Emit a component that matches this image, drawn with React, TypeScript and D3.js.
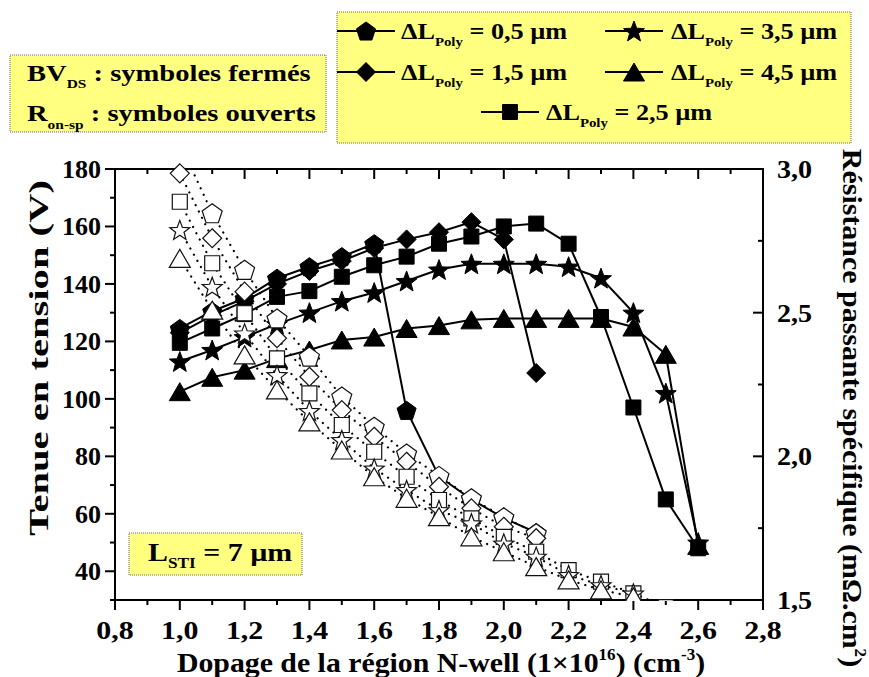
import React from 'react';
import * as d3 from 'd3';

// ---------- DATA ----------
const xValues = [1.0, 1.1, 1.2, 1.3, 1.4, 1.5, 1.6, 1.7, 1.8, 1.9, 2.0, 2.1, 2.2, 2.3, 2.4, 2.5, 2.6];

// BV_DS (V) - closed symbols, left axis
const bvPentagon = [124.5, 130.5, 135, 142, 146, 149.5, 154, 96, 73, 65, 58.5, 53.5];
const bvDiamond = [123, 129, 134, 140, 144.5, 148, 152.5, 155.5, 158, 161.5, 155.5, 109];
const bvSquare = [119.5, 124.5, 129.5, 135.5, 137.5, 142.5, 146.5, 149.5, 154, 156.5, 160, 161, 154, 128.5, 97, 65, 48];
const bvStar = [113, 117, 121.5, 126, 130, 134, 137, 141, 145, 147, 147, 147, 146, 142, 130, 102, 50];
const bvTriangle = [102.5, 107.5, 110, 114, 117, 120.5, 121.5, 124.5, 125.5, 127.5, 128, 128, 128, 128, 125, 115.5, 49];

// R_on-sp (mOhm.cm2) - open symbols, right axis
const ronPentagon = [3.09, 2.846, 2.649, 2.48, 2.347, 2.208, 2.103, 2.01, 1.932, 1.854, 1.788, 1.732];
const ronDiamond = [2.985, 2.759, 2.573, 2.411, 2.277, 2.161, 2.068, 1.981, 1.894, 1.819, 1.755, 1.715];
const ronSquare = [2.886, 2.672, 2.498, 2.341, 2.219, 2.109, 2.016, 1.929, 1.848, 1.784, 1.72, 1.668, 1.604, 1.564, 1.523, 1.475];
const ronStar = [2.788, 2.59, 2.428, 2.283, 2.158, 2.057, 1.958, 1.883, 1.813, 1.767, 1.697, 1.651, 1.587, 1.552, 1.523];
const ronTriangle = [2.689, 2.509, 2.353, 2.231, 2.12, 2.022, 1.929, 1.854, 1.79, 1.72, 1.668, 1.616, 1.57, 1.535, 1.511];

const xMajorTicks = [0.8, 1.0, 1.2, 1.4, 1.6, 1.8, 2.0, 2.2, 2.4, 2.6, 2.8];
const yLeftMajorTicks = [40, 60, 80, 100, 120, 140, 160, 180];
const yRightMajorTicks = [1.5, 2.0, 2.5, 3.0];

const legendLabels = ['0,5', '1,5', '2,5', '3,5', '4,5'];

// ---------- LAYOUT ----------
const W = 869, H = 677;
const PL = 115, PR = 763, PT = 169, PB = 600;
const FONT = '"Liberation Serif", "Times New Roman", serif';

const x = d3.scaleLinear().domain([0.8, 2.8]).range([PL, PR]);
const yL = d3.scaleLinear().domain([30, 180]).range([PB, PT]);
const yR = d3.scaleLinear().domain([1.5, 3.0]).range([PB, PT]);

const fmt = (v: number) => d3.format('.1f')(v).replace('.', ',');

type Shape = 'pentagon' | 'diamond' | 'square' | 'star' | 'triangle';

function poly(pts: number[][]) {
  return 'M' + pts.map(p => p[0].toFixed(2) + ',' + p[1].toFixed(2)).join('L') + 'Z';
}
function shapePath(s: Shape, open: boolean) {
  if (s === 'pentagon') {
    const r = open ? 10.5 : 10;
    const dy = r * 0.095;
    return poly(d3.range(5).map(i => {
      const a = (-90 + 72 * i) * Math.PI / 180;
      return [r * Math.cos(a), r * Math.sin(a) + dy];
    }));
  }
  if (s === 'diamond') {
    const w = 9.5, h = 9.5;
    return poly([[0, -h], [w, 0], [0, h], [-w, 0]]);
  }
  if (s === 'square') {
    const a = 7.5;
    return poly([[-a, -a], [a, -a], [a, a], [-a, a]]);
  }
  if (s === 'star') {
    const R = open ? 10.5 : 11, r = R * 0.42;
    return poly(d3.range(10).map(i => {
      const a = (-90 + 36 * i) * Math.PI / 180;
      const rr = i % 2 === 0 ? R : r;
      return [rr * Math.cos(a), rr * Math.sin(a) + 1];
    }));
  }
  const w = 10.5, h = 9;
  return poly([[0, -h], [w, h], [-w, h]]);
}

const closedSeries: { shape: Shape; values: number[] }[] = [
  { shape: 'pentagon', values: bvPentagon },
  { shape: 'diamond', values: bvDiamond },
  { shape: 'square', values: bvSquare },
  { shape: 'star', values: bvStar },
  { shape: 'triangle', values: bvTriangle },
];
const openSeries: { shape: Shape; values: number[] }[] = [
  { shape: 'pentagon', values: ronPentagon },
  { shape: 'diamond', values: ronDiamond },
  { shape: 'square', values: ronSquare },
  { shape: 'star', values: ronStar },
  { shape: 'triangle', values: ronTriangle },
];

const Marker = ({ shape, open, cx, cy }: { shape: Shape; open: boolean; cx: number; cy: number }) => (
  <path
    d={shapePath(shape, open)}
    transform={`translate(${cx},${cy})`}
    fill={open ? '#fff' : '#000'}
    stroke={open ? '#111' : '#000'}
    strokeWidth={open ? 1.2 : 1}
  />
);

const TXT = { fontFamily: FONT, fontWeight: 700 as const, fill: '#000' };

// text placed at (x,y), optionally rotated, stretched horizontally by sx
const T = ({ x: tx, y: ty, sx = 1, rot = 0, anchor = 'start', size, children }:
  { x: number; y: number; sx?: number; rot?: number; anchor?: string; size: number; children: React.ReactNode }) => (
  <g transform={`translate(${tx},${ty}) rotate(${rot}) scale(${sx},1)`}>
    <text x={0} y={0} textAnchor={anchor as any} fontSize={size} {...TXT}>{children}</text>
  </g>
);

export default function App() {
  const lineL = d3.line<number>().x((_, i) => x(xValues[i])).y(v => yL(v));
  const lineR = d3.line<number>().x((_, i) => x(xValues[i])).y(v => yR(v));

  const xMinor = d3.range(0.8, 2.81, 0.1);
  const yLMinor = d3.range(30, 181, 10);
  const yRMinor = d3.range(1.5, 3.01, 0.25);

  const legendPos = [
    { shape: 'pentagon' as Shape, lx: 337, cy: 31, tx: 401 },
    { shape: 'diamond' as Shape, lx: 337, cy: 72, tx: 401 },
    { shape: 'square' as Shape, lx: 481, cy: 112, tx: 546 },
    { shape: 'star' as Shape, lx: 605, cy: 31, tx: 671 },
    { shape: 'triangle' as Shape, lx: 605, cy: 72, tx: 671 },
  ];

  return (
    <svg width={W} height={H} style={{ position: 'absolute', left: 0, top: 0, background: '#fff' }}>
      <defs>
        <clipPath id="plotClip">
          <rect x={PL} y={PT - 6} width={PR - PL} height={PB - PT + 7} />
        </clipPath>
        <clipPath id="lineClip">
          <rect x={PL} y={PT} width={PR - PL} height={PB - PT} />
        </clipPath>
      </defs>

      {/* legend box left */}
      <rect x={10} y={55} width={316} height={77} fill="#ffff80" stroke="#666" strokeWidth={1} strokeDasharray="1 1" />
      <T x={27} y={81} size={24} sx={1.19}>
        BV<tspan fontSize={13} dy={7}>DS</tspan><tspan dy={-7}> : symboles fermés</tspan>
      </T>
      <T x={27} y={121} size={24} sx={1.19}>
        R<tspan fontSize={13} dy={8}>on-sp</tspan><tspan dy={-8}> : symboles ouverts</tspan>
      </T>

      {/* legend box right */}
      <rect x={337} y={12} width={514} height={131} fill="#ffff80" stroke="#666" strokeWidth={1} strokeDasharray="1 1" />
      {legendPos.map((p, i) => (
        <g key={i}>
          <line x1={p.lx} x2={p.lx + 58} y1={p.cy} y2={p.cy} stroke="#000" strokeWidth={2} />
          <Marker shape={p.shape} open={false} cx={p.lx + 29} cy={p.cy} />
          <T x={p.tx} y={p.cy + 8} size={23} sx={1.14}>
            ΔL<tspan fontSize={13} dy={7}>Poly</tspan><tspan dy={-7}> = {legendLabels[i]} µm</tspan>
          </T>
        </g>
      ))}

      {/* L_STI box */}
      <rect x={129} y={533} width={173} height={42} fill="#ffff80" stroke="#666" strokeWidth={1} strokeDasharray="1 1" />
      <T x={148} y={561} size={26} sx={1.15}>
        L<tspan fontSize={15} dy={7}>STI</tspan><tspan dy={-7}> = 7 µm</tspan>
      </T>

      {/* frame */}
      <rect x={PL} y={PT} width={PR - PL} height={PB - PT} fill="none" stroke="#000" strokeWidth={2} />

      {/* x ticks bottom (out) and top (in) */}
      {xMinor.map((v, i) => {
        const major = i % 2 === 0;
        const len = major ? 10 : 5;
        return (
          <g key={'xt' + i}>
            <line x1={x(v)} x2={x(v)} y1={PB} y2={PB + len} stroke="#000" strokeWidth={2} />
            <line x1={x(v)} x2={x(v)} y1={PT} y2={PT + len} stroke="#000" strokeWidth={2} />
          </g>
        );
      })}
      {xMajorTicks.map(v => (
        <T key={'xl' + v} x={x(v)} y={639} anchor="middle" size={26} sx={1.15}>{fmt(v)}</T>
      ))}

      {/* y left ticks (out) */}
      {yLMinor.map((v, i) => {
        const major = v % 20 === 0;
        return <line key={'yl' + i} x1={PL - (major ? 10 : 5)} x2={PL} y1={yL(v)} y2={yL(v)} stroke="#000" strokeWidth={2} />;
      })}
      {yLeftMajorTicks.map(v => (
        <T key={'yll' + v} x={101} y={yL(v) + 9} anchor="end" size={26}>{v}</T>
      ))}

      {/* y right ticks (in) */}
      {yRMinor.map((v, i) => {
        const major = Math.abs(v * 2 - Math.round(v * 2)) < 1e-6;
        return <line key={'yr' + i} x1={PR - (major ? 10 : 5)} x2={PR} y1={yR(v)} y2={yR(v)} stroke="#000" strokeWidth={2} />;
      })}
      {yRightMajorTicks.map(v => (
        <T key={'yrl' + v} x={777} y={yR(v) + 9} size={26} sx={1.08}>{fmt(v)}</T>
      ))}

      {/* axis titles */}
      <T x={441} y={672} anchor="middle" size={28} sx={1.065}>
        Dopage de la région N-well (1×10<tspan fontSize={16} dy={-12}>16</tspan><tspan dy={12}>) (cm</tspan><tspan fontSize={16} dy={-12}>-3</tspan><tspan dy={12}>)</tspan>
      </T>
      <T x={48} y={358} rot={-90} anchor="middle" size={28} sx={1.45}>Tenue en tension (V)</T>
      <T x={843} y={408} rot={90} anchor="middle" size={28} sx={1.07}>
        Résistance passante spécifique (mΩ.cm<tspan fontSize={16} dy={-12}>2</tspan><tspan dy={12}>)</tspan>
      </T>

      {/* closed series (BV) */}
      <g clipPath="url(#lineClip)">
        {closedSeries.map((s, k) => (
          <path key={'cl' + k} d={lineL(s.values) || ''} fill="none" stroke="#000" strokeWidth={2} />
        ))}
      </g>
      <g clipPath="url(#plotClip)">
        {closedSeries.map((s, k) => (
          <g key={'cm' + k}>
            {s.values.map((v, i) => (
              <Marker key={i} shape={s.shape} open={false} cx={x(xValues[i])} cy={yL(v)} />
            ))}
          </g>
        ))}
      </g>

      {/* open series (Ron) */}
      <g clipPath="url(#lineClip)">
        {openSeries.map((s, k) => (
          <path key={'ol' + k} d={lineR(s.values) || ''} fill="none" stroke="#000" strokeWidth={2.2}
            strokeDasharray="0.1 7" strokeLinecap="round" />
        ))}
      </g>
      <g clipPath="url(#plotClip)">
        {openSeries.map((s, k) => (
          <g key={'om' + k}>
            {s.values.map((v, i) => (v <= 3.0 ?
              <Marker key={i} shape={s.shape} open={true} cx={x(xValues[i])} cy={yR(v)} /> : null
            ))}
          </g>
        ))}
      </g>
    </svg>
  );
}
